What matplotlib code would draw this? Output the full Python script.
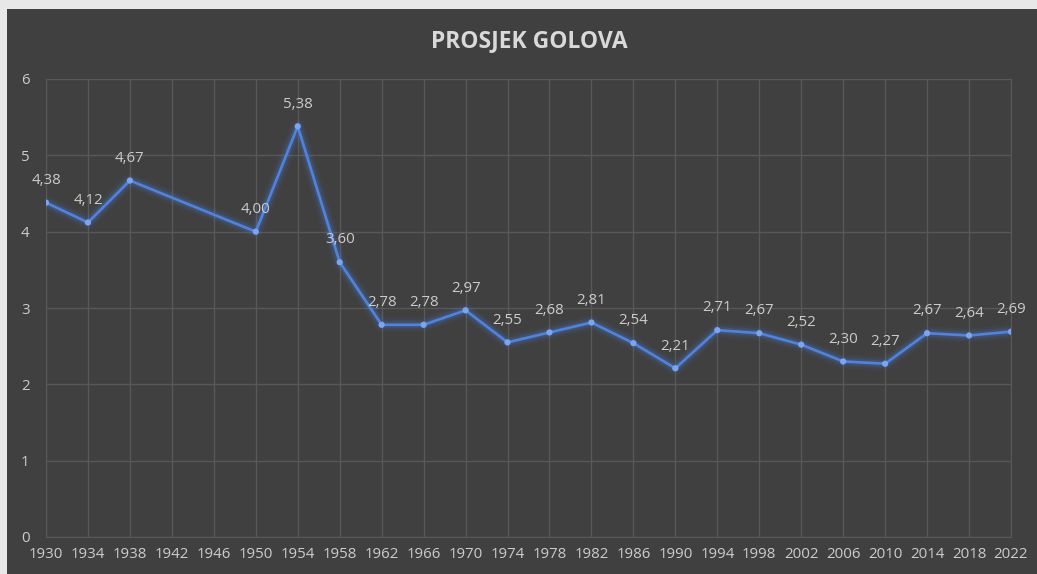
import matplotlib.pyplot as plt
from matplotlib.patches import Rectangle
import numpy as np

years = ["1930", "1934", "1938", "1942", "1946", "1950", "1954", "1958", "1962", "1966",
         "1970", "1974", "1978", "1982", "1986", "1990", "1994", "1998", "2002", "2006",
         "2010", "2014", "2018", "2022"]
goals = [4.38, 4.12, 4.67, None, None, 4.00, 5.38, 3.60, 2.78, 2.78,
         2.97, 2.55, 2.68, 2.81, 2.54, 2.21, 2.71, 2.67, 2.52, 2.30,
         2.27, 2.67, 2.64, 2.69]
title = "PROSJEK GOLOVA"

bg = "#404040"
grid_color = "#585858"
text_color = "#cccccc"
line_color = "#4f83e0"

plt.rcParams["font.family"] = ["Open Sans", "DejaVu Sans"]

fig = plt.figure(figsize=(10.37, 5.74), dpi=100, facecolor="#e8e8e8")
fig.patches.append(Rectangle((7 / 1037, 0), 1, 1 - 9 / 574, transform=fig.transFigure,
                             facecolor=bg, edgecolor="none", zorder=-10))

ax = fig.add_axes([46 / 1037, 1 - 537 / 574, (1011 - 46) / 1037, (537 - 79) / 574])
ax.set_facecolor(bg)

x = [i for i, v in enumerate(goals) if v is not None]
y = [v for v in goals if v is not None]

# glow under the line
for lw, a in [(10, 0.06), (7, 0.1), (4.5, 0.15)]:
    ax.plot(x, y, color=line_color, linewidth=lw, alpha=a, solid_capstyle="round",
            solid_joinstyle="round", zorder=2)
ax.plot(x, y, color=line_color, linewidth=1.9, zorder=3)
ax.scatter(x, y, s=20, color="#7aa5f2", edgecolors="none", zorder=4)

for xi, yi in zip(x, y):
    ax.annotate(f"{yi:.2f}".replace(".", ","), (xi, yi), xytext=(0, 16),
                textcoords="offset points", ha="center", va="center",
                color=text_color, fontsize=10.8, zorder=5)

ax.set_xlim(0, len(years) - 1)
ax.set_ylim(0, 6)
ax.set_xticks(range(len(years)))
ax.set_xticklabels(years)
ax.set_yticks(range(0, 7))
ax.grid(True, color=grid_color, linewidth=1)
ax.set_axisbelow(True)
for s in ax.spines.values():
    s.set_color(grid_color)
ax.tick_params(length=0, colors=text_color, labelsize=10.8)
ax.tick_params(axis="y", pad=18)
ax.tick_params(axis="x", pad=7)
for lab in ax.get_yticklabels():
    lab.set_horizontalalignment("left")

fig.text(529 / 1037, 1 - 41 / 574, title, ha="center", va="center", color="#d9d9d9",
         fontsize=16.5, fontweight="bold")

fig.savefig("out.png", dpi=100, facecolor=fig.get_facecolor())
